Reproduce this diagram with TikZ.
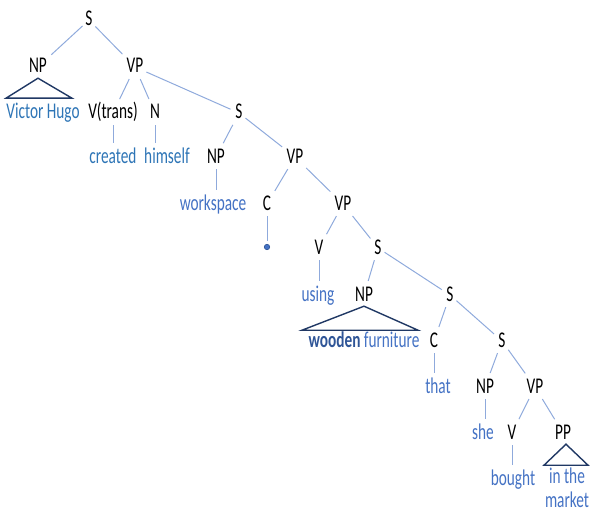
\documentclass[tikz,border=0pt]{standalone}
\usepackage{fontspec}
\newfontfamily\treefont[FakeStretch=0.68]{Carlito}
\usetikzlibrary{positioning}

\definecolor{branchblue}{HTML}{8FAADC}
\definecolor{leafA}{HTML}{2E75B6}
\definecolor{leafB}{HTML}{4472C4}
\definecolor{navy}{HTML}{203864}
\definecolor{boldblue}{HTML}{2F5597}

\begin{document}
\begin{tikzpicture}[x=1pt,y=-1pt,on grid,
        every node/.style={font=\treefont\fontsize{22.5}{25}\selectfont,
            text height=15pt,text depth=3pt,inner sep=2pt},
        leaf/.style={text=leafB},
        leafa/.style={text=leafA},
        branch/.style={draw=branchblue,line width=1pt,shorten >=3pt,shorten <=1pt},
        tri/.style={draw=navy,line width=1.4pt,line join=miter}]
        \useasboundingbox (0,0) rectangle (593,513);

        \node                   (s0) at (89,20) {S};
        \node (np1) [below left=47pt and 51pt of s0]   {NP};
        \node (vp1) [below right=47pt and 46pt of s0]  {VP};

        \node[leafa] (vh)  [below right=46pt and 5pt of np1]  {Victor Hugo};
        \node        (vt)  [below left=46pt and 22pt of vp1]  {V(trans)};
        \node        (n1)  [below right=46pt and 20pt of vp1] {N};
        \node        (s1)  [below right=46pt and 104pt of vp1] {S};

        \node[leafa] (cr)  [below=44pt of vt]                 {created};
        \node[leafa] (hs)  [below right=44pt and 12pt of n1]  {himself};
        \node        (np2) [below left=44pt and 23pt of s1]   {NP};
        \node        (vp2) [below right=44pt and 56pt of s1]  {VP};

        \node[leaf]  (ws)  [below left=47pt and 3pt of np2]   {workspace};
        \node        (c1)  [below left=47pt and 28pt of vp2]  {C};
        \node        (vp3) [below right=47pt and 48pt of vp2] {VP};

        \node[circle,fill=leafB,draw=boldblue,line width=0.6pt,
              minimum size=5.5pt,inner sep=0pt,text height=,text depth=]
                     (dot) [below=43pt of c1] {};
        \node        (v1)  [below left=44pt and 24pt of vp3]  {V};
        \node        (s2)  [below right=44pt and 35pt of vp3] {S};

        \node[leaf]  (us)  [below left=47pt and 1pt of v1]    {using};
        \node        (np3) [below left=47pt and 14pt of s2]   {NP};
        \node        (s3)  [below right=47pt and 72pt of s2]  {S};

        \node[leaf]  (wf)  [below=46pt of np3]
            {\textcolor{boldblue}{\textbf{wooden}} furniture};
        \node        (c2)  [below left=46pt and 16pt of s3]   {C};
        \node        (s4)  [below right=46pt and 52pt of s3]  {S};

        \node[leaf]  (th)  [below right=46pt and 4pt of c2]   {that};
        \node        (np4) [below left=46pt and 17pt of s4]   {NP};
        \node        (vp4) [below right=46pt and 33pt of s4]  {VP};

        \node[leaf]  (sh)  [below left=46pt and 2pt of np4]   {she};
        \node        (v2)  [below left=46pt and 23pt of vp4]  {V};
        \node        (pp)  [below right=46pt and 28pt of vp4] {PP};

        \node[leaf]  (bo)  [below right=46pt and 1pt of v2]   {bought};
        \node[leaf,align=center,text height=,text depth=,inner sep=0pt,
              font=\treefont\fontsize{22.5}{24}\selectfont]
                     (it)  [below right=55pt and 4pt of pp]   {in the\\market};

        % branches
        \path[branch]
            (s0)  edge (np1) edge (vp1)
            (vp1) edge (vt)  edge (n1)  edge (s1)
            (s1)  edge (np2) edge (vp2)
            (vp2) edge (c1)  edge (vp3)
            (vp3) edge (v1)  edge (s2)
            (s2)  edge (np3) edge (s3)
            (s3)  edge (c2)  edge (s4)
            (s4)  edge (np4) edge (vp4)
            (vp4) edge (v2)  edge (pp)
        ;

        % words
        \path[branch]
            (vt)  edge (cr)
            (n1)  edge (n1 |- hs.north)
            (np2) edge (np2 |- ws.north)
            (c1)  edge (dot)
            (v1)  edge (v1 |- us.north)
            (c2)  edge (c2 |- th.north)
            (np4) edge (np4 |- sh.north)
            (v2)  edge (v2 |- bo.north)
        ;

        % triangles
        \draw[tri] (np1.south) -- ++(-32,20) -- ++(66,0) -- cycle;
        \draw[tri] (np3.south) -- ++(-62,24) -- ++(116,0) -- cycle;
        \draw[tri] ([xshift=3pt]pp.south) -- ++(-22,21) -- ++(44,0) -- cycle;
    \end{tikzpicture}
\end{document}
